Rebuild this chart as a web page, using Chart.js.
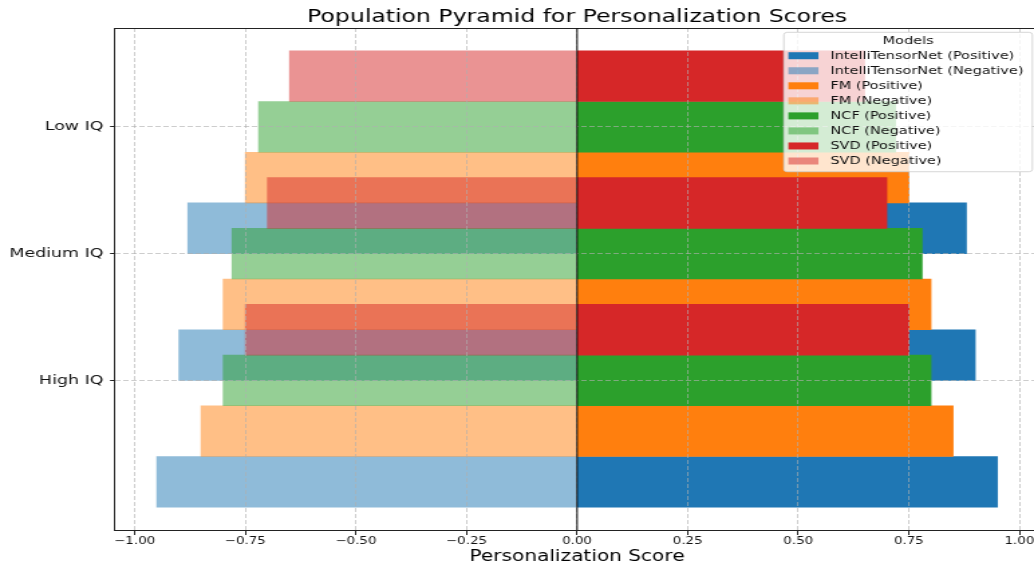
<!DOCTYPE html>
<html>
<head>
<meta charset="utf-8">
<script src="https://cdn.jsdelivr.net/npm/chart.js@4.4.1/dist/chart.umd.min.js"></script>
<style>
html, body { margin: 0; padding: 0; background: #ffffff; overflow: hidden; width: 1034px; height: 565px; }
#wrap { position: absolute; left: 0; top: 0; width: 776px; height: 565px; transform: scaleX(1.33938); transform-origin: 0 0; }
canvas { display: block; }
</style>
</head>
<body>
<div id="wrap"><canvas id="chart" width="776" height="565"></canvas></div>
<script>
// ---------------- data ----------------
const categories = ['High IQ', 'Medium IQ', 'Low IQ'];
const models = ['IntelliTensorNet', 'FM', 'NCF', 'SVD'];
const intelliPositive = [0.95, 0.90, 0.88];
const intelliNegative = [-0.95, -0.90, -0.88];
const fmPositive = [0.85, 0.80, 0.75];
const fmNegative = [-0.85, -0.80, -0.75];
const ncfPositive = [0.80, 0.78, 0.72];
const ncfNegative = [-0.80, -0.78, -0.72];
const svdPositive = [0.75, 0.70, 0.65];
const svdNegative = [-0.75, -0.70, -0.65];
const xTickValues = [-1.0, -0.75, -0.5, -0.25, 0.0, 0.25, 0.5, 0.75, 1.0];
const chartTitle = 'Population Pyramid for Personalization Scores';
const xAxisTitle = 'Personalization Score';
const legendTitle = 'Models';

// ---------------- styling / layout ----------------
const positiveSeries = [intelliPositive, fmPositive, ncfPositive, svdPositive];
const negativeSeries = [intelliNegative, fmNegative, ncfNegative, svdNegative];
const RGB = ['31,119,180', '255,127,14', '44,160,44', '214,39,40'];
const BAR_HEIGHT = 0.4;
const X_MIN = -1.045, X_MAX = 1.045;
const Y_MIN = -1.18, Y_MAX = 2.78;
const FONT = "'DejaVu Sans', sans-serif";
const LEGEND_FONT = 10.8;

Chart.defaults.font.family = FONT;
Chart.defaults.color = '#111';

function barPixels(chart) {
  const s = chart && chart.scales ? chart.scales.y : null;
  if (!s || !s._length) return 50;
  return Math.abs(s.getPixelForValue(BAR_HEIGHT) - s.getPixelForValue(0));
}

const datasets = [];
models.forEach((m, j) => {
  const offset = (j - models.length / 2) * BAR_HEIGHT;
  const make = (vals, kind, alpha, k) => ({
    label: m + ' (' + kind + ')',
    data: vals.map((v, i) => ({ x: v, y: i + offset })),
    backgroundColor: 'rgba(' + RGB[j] + ',' + alpha + ')',
    borderWidth: 0,
    grouped: false,
    order: -(2 * j + k),
    barThickness: (ctx) => barPixels(ctx.chart)
  });
  datasets.push(make(positiveSeries[j], 'Positive', 1, 0));
  datasets.push(make(negativeSeries[j], 'Negative', 0.5, 1));
});

function fmtTick(v) {
  return (v < 0 ? '\u2212' : '') + Math.abs(v).toFixed(2);
}

const decorPlugin = {
  id: 'decor',
  afterDraw(chart) {
    const { ctx, chartArea: a } = chart;
    const xs = chart.scales.x;
    ctx.save();
    // top spine
    ctx.strokeStyle = '#222';
    ctx.lineWidth = 1;
    ctx.beginPath();
    ctx.moveTo(a.left, Math.round(a.top) + 0.5);
    ctx.lineTo(a.right, Math.round(a.top) + 0.5);
    ctx.stroke();
    // zero line
    const x0 = xs.getPixelForValue(0);
    ctx.strokeStyle = '#000';
    ctx.lineWidth = 1;
    ctx.beginPath();
    ctx.moveTo(x0, a.top);
    ctx.lineTo(x0, a.bottom);
    ctx.stroke();

    // legend
    ctx.font = LEGEND_FONT + 'px ' + FONT;
    const ds = chart.data.datasets;
    let textW = 0;
    ds.forEach(d => { textW = Math.max(textW, ctx.measureText(d.label).width); });
    const padL = 3.4, patchW = 22.4, gap = 9, padR = 6.7;
    const w = padL + patchW + gap + textW + padR;
    const h = 139.4;
    const left = a.right - 5.2 - w;
    const top = a.top + 4.3;
    const r = 2.5;
    ctx.beginPath();
    ctx.moveTo(left + r, top);
    ctx.lineTo(left + w - r, top);
    ctx.quadraticCurveTo(left + w, top, left + w, top + r);
    ctx.lineTo(left + w, top + h - r);
    ctx.quadraticCurveTo(left + w, top + h, left + w - r, top + h);
    ctx.lineTo(left + r, top + h);
    ctx.quadraticCurveTo(left, top + h, left, top + h - r);
    ctx.lineTo(left, top + r);
    ctx.quadraticCurveTo(left, top, left + r, top);
    ctx.closePath();
    ctx.fillStyle = 'rgba(255,255,255,0.8)';
    ctx.fill();
    ctx.strokeStyle = 'rgba(204,204,204,0.8)';
    ctx.lineWidth = 1;
    ctx.stroke();

    ctx.fillStyle = '#111';
    ctx.textBaseline = 'middle';
    ctx.textAlign = 'center';
    ctx.fillText(legendTitle, left + w / 2, top + 8.9);
    ctx.textAlign = 'left';
    ds.forEach((d, i) => {
      const cy = top + 23.4 + i * 15.04;
      ctx.fillStyle = d.backgroundColor;
      ctx.fillRect(left + padL, cy - 3.5, patchW, 7);
      ctx.fillStyle = '#111';
      ctx.fillText(d.label, left + padL + patchW + gap, cy + 0.4);
    });
    ctx.restore();
  }
};

const gridCommon = {
  color: 'rgba(176,176,176,0.7)',
  lineWidth: 0.9,
  z: 1,
  offset: false,
  drawTicks: true,
  tickColor: '#222',
  tickWidth: 1,
  borderDash: [4, 2]
};
const borderCommon = { display: true, color: '#222', width: 1, dash: [4, 2], z: 2 };

new Chart(document.getElementById('chart'), {
  type: 'bar',
  data: { datasets: datasets },
  plugins: [decorPlugin],
  options: {
    indexAxis: 'y',
    responsive: false,
    animation: false,
    events: [],
    devicePixelRatio: 1,
    layout: { padding: 0, autoPadding: false },
    plugins: {
      legend: { display: false },
      tooltip: { enabled: false },
      title: {
        display: true,
        text: chartTitle,
        fullSize: false,
        color: '#000',
        font: { size: 17.6, weight: 'normal', family: FONT, lineHeight: 1.2 },
        padding: { top: 6.9, bottom: 0 }
      }
    },
    scales: {
      x: {
        type: 'linear',
        position: 'bottom',
        min: X_MIN,
        max: X_MAX,
        offset: false,
        afterBuildTicks: (s) => { s.ticks = xTickValues.map(v => ({ value: v })); },
        afterFit: (s) => { s.height = 35; },
        ticks: { callback: (v) => fmtTick(v), font: { size: 10 }, color: '#111', padding: 0, maxRotation: 0, autoSkip: false },
        grid: Object.assign({}, gridCommon, { tickLength: 5 }),
        border: borderCommon,
        title: { display: true, text: xAxisTitle, color: '#000', font: { size: 15, lineHeight: 1.2 }, padding: { top: 0, bottom: -1 } }
      },
      y: {
        type: 'linear',
        position: 'left',
        min: Y_MIN,
        max: Y_MAX,
        offset: false,
        afterBuildTicks: (s) => { s.ticks = categories.map((c, i) => ({ value: i })); },
        afterFit: (s) => { s.width = 85.7; },
        ticks: { callback: (v) => categories[v], font: { size: 13 }, color: '#111', padding: 5, autoSkip: false },
        grid: Object.assign({}, gridCommon, { tickLength: 3.5 }),
        border: borderCommon
      }
    }
  }
});
</script>
</body>
</html>
